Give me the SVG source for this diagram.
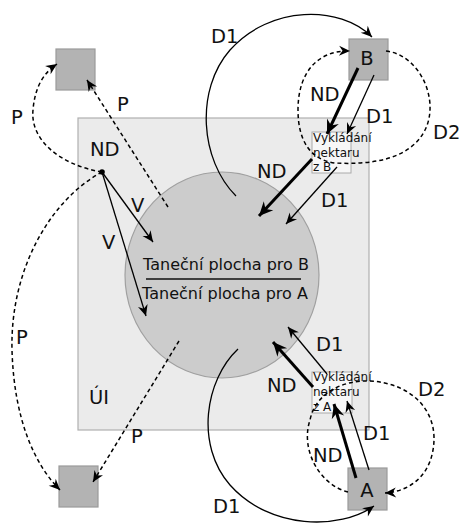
<svg xmlns="http://www.w3.org/2000/svg" width="460" height="528" viewBox="0 0 460 528">
<style>
text{font-family:"DejaVu Sans","Liberation Sans",sans-serif;fill:#111}
.lbl{font-size:19.5px}
.big{font-size:16px}
.sm{font-size:12px}
.sq{fill:#b3b3b3;stroke:#9a9a9a;stroke-width:1.2}
.box{fill:#f7f7f7;stroke:#aaaaaa;stroke-width:1}
.c{fill:none;stroke:#000}
.thin{stroke-width:1.3}
.thick{stroke-width:3}
.dash{stroke-width:1.5;stroke-dasharray:4,3}
</style>
<defs>
<marker id="ah" markerUnits="userSpaceOnUse" markerWidth="14" markerHeight="14" viewBox="-12 -7 14 14" refX="0" refY="0" orient="auto" overflow="visible">
<path d="M0,0 L-11,-5 L-7.5,0 L-11,5 Z" fill="#000"/>
</marker>
<marker id="ahb" markerUnits="userSpaceOnUse" markerWidth="18" markerHeight="18" viewBox="-16 -9 18 18" refX="0" refY="0" orient="auto" overflow="visible">
<path d="M0,0 L-14,-6.5 L-9.5,0 L-14,6.5 Z" fill="#000"/>
</marker>
</defs>

<g id="hive">
<rect x="78" y="118" width="291" height="312" fill="#ebebeb" stroke="#b0b0b0" stroke-width="1.2"/>
<text class="lbl" x="89" y="404">ÚI</text>
</g>

<g id="dance">
<ellipse cx="222" cy="275" rx="97" ry="103" fill="#cccccc" stroke="#a0a0a0" stroke-width="1.2"/>
<text class="big" x="226" y="270" text-anchor="middle">Taneční plocha pro B</text>
<line x1="146" y1="279" x2="301" y2="279" stroke="#111" stroke-width="1.5"/>
<text class="big" x="225" y="299" text-anchor="middle">Taneční plocha pro A</text>
</g>

<g id="srcTL"><rect class="sq" x="56" y="49" width="39" height="41"/></g>
<g id="srcBL"><rect class="sq" x="59" y="466" width="39" height="41"/></g>
<g id="srcB"><rect class="sq" x="349" y="39" width="39" height="41"/><text class="lbl" x="367" y="65" text-anchor="middle">B</text></g>
<g id="srcA"><rect class="sq" x="348" y="468" width="39" height="42"/><text class="lbl" x="367" y="497" text-anchor="middle">A</text></g>

<g id="unloadB">
<rect class="box" x="312" y="132" width="39" height="41"/>
<text class="sm" x="313" y="142">Vykládání</text>
<text class="sm" x="313" y="157">nektaru</text>
<text class="sm" x="313" y="171">z B</text>
</g>
<g id="unloadA">
<rect class="box" x="312" y="372" width="40" height="41"/>
<text class="sm" x="313" y="381">Vykládání</text>
<text class="sm" x="313" y="396">nektaru</text>
<text class="sm" x="313" y="411">z A</text>
</g>

<g id="connectors">
<path class="c thin" d="M236,196 C200,160 195,90 230,50 C270,5 340,5 372,37" marker-end="url(#ah)"/>
<path class="c thin" d="M238,349 C205,380 195,445 230,485 C270,530 340,530 374,506" marker-end="url(#ah)"/>
<path class="c thick" d="M358,68 L327,134" marker-end="url(#ahb)"/>
<path class="c thin" d="M374,75 L347,134" marker-end="url(#ah)"/>
<path class="c thick" d="M312,159 L259,216" marker-end="url(#ahb)"/>
<path class="c thin" d="M337,167 L286,224" marker-end="url(#ah)"/>
<path class="c dash" d="M386,51 C420,55 440,100 425,130 C410,160 370,165 335,163 C310,160 298,140 298,110 C298,70 320,50 350,51" marker-end="url(#ah)"/>
<path class="c dash" d="M348,492 C320,485 300,450 310,420 C315,395 340,380 370,381 C410,383 440,410 433,450 C428,480 405,492 385,493" marker-end="url(#ah)"/>
<path class="c thick" d="M356,478 L334,404" marker-end="url(#ahb)"/>
<path class="c thin" d="M369,470 L347,401" marker-end="url(#ah)"/>
<path class="c thick" d="M313,387 L273,342" marker-end="url(#ahb)"/>
<path class="c thin" d="M327,374 L288,327" marker-end="url(#ah)"/>
<path class="c thin" d="M102,172 L153,242" marker-end="url(#ah)"/>
<path class="c thin" d="M102,172 L146,316" marker-end="url(#ah)"/>
<path class="c dash" d="M102,172 C60,165 30,140 33,110 C35,85 45,72 57,64" marker-end="url(#ah)"/>
<path class="c dash" d="M168,207 L87,80" marker-end="url(#ah)"/>
<path class="c dash" d="M102,172 C50,200 10,270 12,350 C14,420 35,465 60,490" marker-end="url(#ah)"/>
<path class="c dash" d="M179,341 L93,482" marker-end="url(#ah)"/>
<circle cx="102" cy="172" r="2.8" fill="#000"/>
</g>

<g id="labels">
<text class="lbl" x="211" y="43">D1</text>
<text class="lbl" x="310" y="101">ND</text>
<text class="lbl" x="366" y="123">D1</text>
<text class="lbl" x="433" y="139">D2</text>
<text class="lbl" x="257" y="178">ND</text>
<text class="lbl" x="321" y="207">D1</text>
<text class="lbl" x="11" y="124">P</text>
<text class="lbl" x="117" y="111">P</text>
<text class="lbl" x="90" y="156">ND</text>
<text class="lbl" x="131" y="212">V</text>
<text class="lbl" x="102" y="249">V</text>
<text class="lbl" x="16" y="344">P</text>
<text class="lbl" x="131" y="443">P</text>
<text class="lbl" x="213" y="513">D1</text>
<text class="lbl" x="316" y="351">D1</text>
<text class="lbl" x="267" y="392">ND</text>
<text class="lbl" x="418" y="396">D2</text>
<text class="lbl" x="363" y="440">D1</text>
<text class="lbl" x="313" y="462">ND</text>
</g>
</svg>
